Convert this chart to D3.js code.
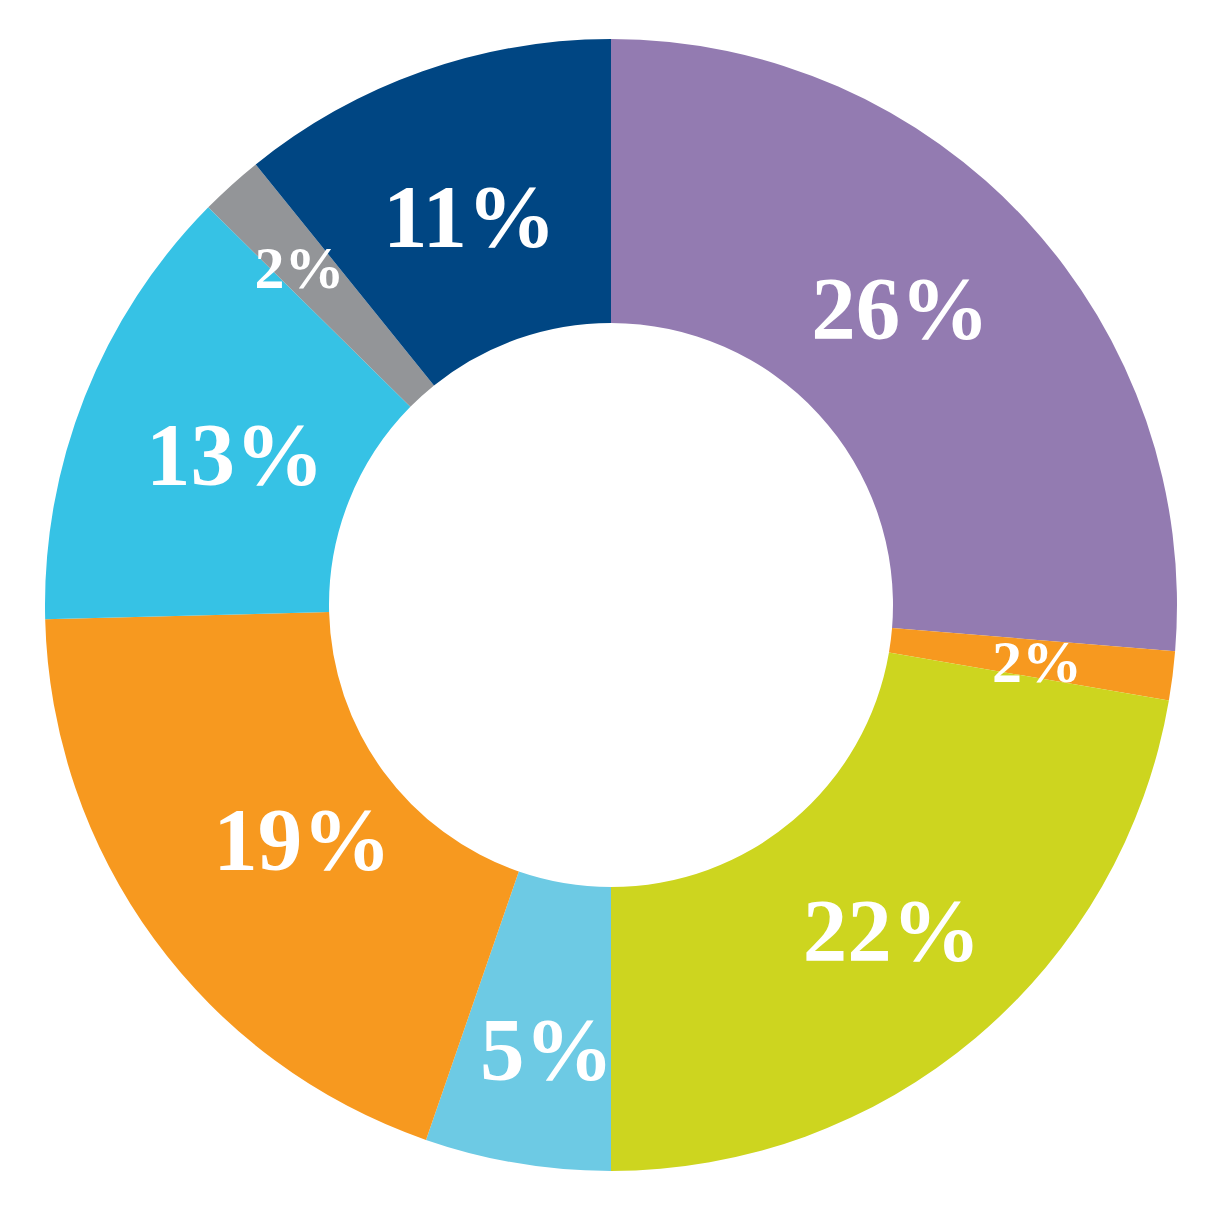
<!DOCTYPE html>
<html>
<head>
<meta charset="utf-8">
<script src="https://cdn.jsdelivr.net/npm/d3@7"></script>
<style>
html,body{margin:0;padding:0;background:#fff;}
svg{display:block;}
</style>
</head>
<body>
<svg id="chart" width="1222" height="1221"></svg>
<script>
const categories = ["A","B","C","D","E","F","G","H"];
const values = [26.3, 1.4, 22.3, 5.3, 19.3, 12.8, 1.8, 10.8];
const labels = ["26%","2%","22%","5%","19%","13%","2%","11%"];
const colors = ["#937BB1","#F7991F","#CDD51F","#6DCAE4","#F7991F","#36C2E5","#939598","#004683"];

const svg = d3.select("#chart");
const cx = 611, cy = 605, outerR = 566, innerR = 282;
const g = svg.append("g").attr("transform", `translate(${cx},${cy})`);

const data = categories.map((c,i)=>({cat:c, value:values[i], label:labels[i], color:colors[i]}));
const pie = d3.pie().value(d=>d.value).sort(null);
const arc = d3.arc().innerRadius(innerR).outerRadius(outerR);
const arcs = pie(data);

g.selectAll("path").data(arcs).join("path")
  .attr("d", arc)
  .attr("fill", d=>d.data.color);

// label layout tweaks (layout only)
const labelRadius = [414, 430, 430, 449, 388, 405, 459, 413];
const labelAngleNudge = [-3, 0.5, -0.6, -1.3, -1.1, 0.2, -0.6, -0.6];
g.selectAll("text").data(arcs).join("text")
  .attr("transform", (d,i)=>{
    const a = (d.startAngle + d.endAngle)/2 + labelAngleNudge[i]*Math.PI/180;
    const r = labelRadius[i];
    return `translate(${r*Math.sin(a)},${-r*Math.cos(a)})`;
  })
  .attr("text-anchor","middle")
  .attr("dy","0.33em")
  .attr("fill","#fff")
  .attr("font-family","'Liberation Serif', serif")
  .attr("font-weight","bold")
  .attr("font-size", d=> d.data.value < 5 ? 60 : 89)
  .text(d=>d.data.label);
</script>
</body>
</html>
